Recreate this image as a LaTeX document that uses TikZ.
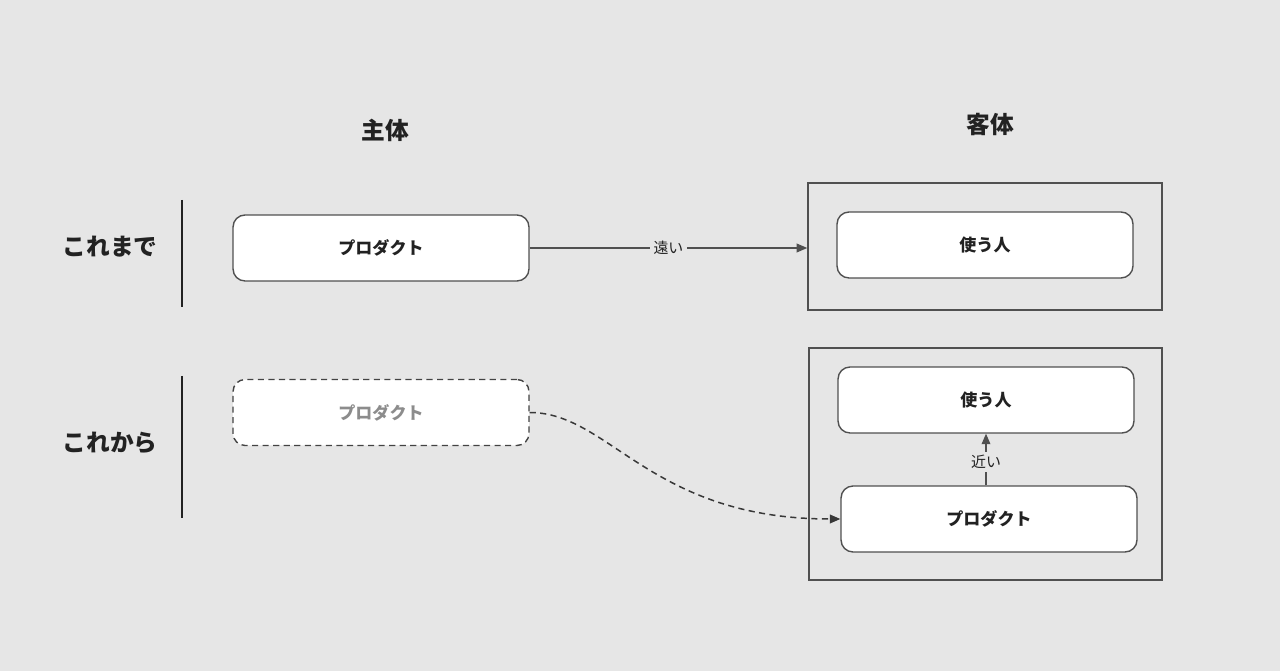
\documentclass[tikz,border=0pt]{standalone}
\usepackage{fontspec}
\newfontfamily\jpfont{Noto Sans CJK JP}
\usetikzlibrary{arrows.meta, positioning}
\definecolor{bggray}{HTML}{E6E6E6}
\definecolor{linegray}{HTML}{505050}
\definecolor{textdark}{HTML}{222222}
\tikzstyle{heading} = [font=\jpfont\bfseries\fontsize{13.5}{16}\selectfont, text=textdark]
\tikzstyle{card} = [rectangle, rounded corners=0.24cm, minimum width=5.92cm, minimum height=1.32cm, text centered, draw=linegray, line width=0.8pt, fill=white, font=\jpfont\bfseries\fontsize{9.7}{11}\selectfont, text=textdark]
\tikzstyle{ghost} = [card, draw=textdark!85, dash pattern=on 3.5pt off 2.5pt, text=gray!90]
\tikzstyle{frame} = [rectangle, draw=linegray, line width=0.9pt]
\tikzstyle{tag} = [fill=bggray, inner sep=2pt, font=\jpfont\fontsize{8.5}{10}\selectfont, text=textdark]
\tikzstyle{arrow} = [line width=0.6pt, draw=linegray, -{Triangle[length=6pt, width=5pt]}]
\tikzstyle{bar} = [line width=1.2pt, draw=textdark]

\begin{document}
\begin{tikzpicture}[x=0.02cm, y=-0.02cm]
    \fill [bggray] (0,0) rectangle (1280,671);
    \useasboundingbox (0,0) rectangle (1280,671);

    % column and row headings
    \node (subject) [heading] at (385,130) {主体};
    \node (object) [heading] at (990,125) {客体};
    \node (before) [heading] at (110,247) {これまで};
    \node (after) [heading] at (110,443) {これから};
    \draw [bar] (182,200) -- (182,307);
    \draw [bar] (182,376) -- (182,518);

    % upper row
    \node (prodA) [card] at (381,248) {プロダクト};
    \node (frameA) [frame, minimum width=7.08cm, minimum height=2.54cm] at (985,246.5) {};
    \node (userA) [card] at (985,245) {使う人};

    % lower row
    \node (prodB) [ghost] at (381,412.5) {プロダクト};
    \node (frameB) [frame, minimum width=7.06cm, minimum height=4.64cm] at (985.5,464) {};
    \node (userB) [card] at (986,400) {使う人};
    \node (prodC) [card] at (989,519) {プロダクト};

    \draw [arrow] (prodA.east) -- node [tag] {遠い} (prodA.east -| frameA.west);
    \draw [arrow] (prodC.north -| userB.south) -- node [tag, pos=0.45] {近い} (userB.south);
    \draw [arrow, draw=textdark!90, line width=0.85pt, dash pattern=on 3.5pt off 2.5pt] (prodB.east) .. controls +(80,0) and +(-190,0) .. (prodC.west);
\end{tikzpicture}
\end{document}
